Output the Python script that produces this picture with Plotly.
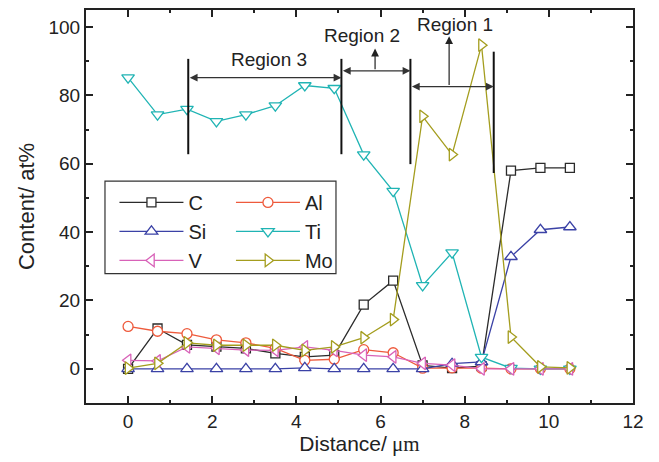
import plotly.graph_objects as go

distance = [0, 0.7, 1.4, 2.1, 2.8, 3.5, 4.2, 4.9, 5.6, 6.3, 7.0, 7.7, 8.4, 9.1, 9.8, 10.5]
C  = [0, 11.8, 7.0, 6.5, 6.0, 4.5, 3.5, 4.0, 18.8, 25.8, 1.0, 0.2, 0.8, 58.0, 58.8, 58.8]
Al = [12.4, 11.0, 10.3, 8.5, 7.6, 6.0, 2.5, 2.8, 5.6, 4.7, 0.2, 0.3, 0.2, 0, 0, 0]
Si = [0, 0, 0, 0, 0, 0, 0.3, 0, 0, 0, 0, 1.5, 2.0, 32.8, 40.7, 41.5]
Ti = [85.2, 74.4, 76.0, 72.4, 74.4, 77.0, 82.9, 82.1, 62.7, 52.0, 24.4, 34.0, 3.4, 0.2, 0, 0]
V  = [2.5, 2.3, 6.4, 6.0, 5.5, 5.4, 6.4, 5.4, 4.0, 3.5, 1.6, 1.1, 0, 0, 0, 0]
Mo = [0.2, 1.6, 7.6, 6.9, 6.9, 6.9, 5.4, 6.4, 9.1, 14.4, 73.9, 62.7, 94.7, 9.3, 0.6, 0.3]

x_ticks = [0, 2, 4, 6, 8, 10, 12]
y_ticks = [0, 20, 40, 60, 80, 100]

series = [
    ("C", C, "#2b2b2b", "square", 9, "legend"),
    ("Al", Al, "#EE5A3C", "circle", 10, "legend2"),
    ("Si", Si, "#3B42A6", "triangle-up", 11, "legend"),
    ("Ti", Ti, "#20B4B4", "triangle-down", 11, "legend2"),
    ("V", V, "#D862B8", "triangle-left", 11, "legend"),
    ("Mo", Mo, "#A49D1E", "triangle-right", 11, "legend2"),
]

FONT = "Liberation Sans, Arial, sans-serif"

fig = go.Figure()
for name, vals, col, sym, sz, lg in series:
    fig.add_trace(go.Scatter(
        x=distance, y=vals, name=name, mode="lines+markers",
        line=dict(color=col, width=1.3),
        marker=dict(symbol=sym, size=sz, color="white", line=dict(color=col, width=1.3)),
        legend=lg,
    ))

axis_common = dict(
    showline=True, linecolor="#222", linewidth=2, mirror="ticks",
    ticks="inside", ticklen=7, tickwidth=1.5, tickcolor="#222",
    showgrid=False, zeroline=False,
    tickfont=dict(family=FONT, size=19, color="#222"),
)

fig.update_xaxes(
    range=[-1, 12], tickvals=x_ticks,
    minor=dict(ticks="inside", ticklen=3, dtick=1, tick0=0, tickcolor="#222"),
    title=dict(text="Distance/<span style='font-family:Liberation Serif, Times New Roman, serif'> μm</span>",
               font=dict(family=FONT, size=21, color="#222"), standoff=5),
    **axis_common,
)
fig.update_yaxes(
    range=[-10, 105], tickvals=y_ticks,
    minor=dict(ticks="inside", ticklen=3, dtick=10, tick0=0, tickcolor="#222"),
    title=dict(text="Content/ at%", font=dict(family=FONT, size=22, color="#222"), standoff=8),
    **axis_common,
)

# region boundary lines
vlines = [(1.43, 62.8, 90.7), (5.07, 62.8, 90.7), (6.71, 59.9, 90.7), (8.69, 57.3, 92.8)]
for xv, y0, y1 in vlines:
    fig.add_shape(type="line", x0=xv, x1=xv, y0=y0, y1=y1, xref="x", yref="y",
                  line=dict(color="#111", width=2))

# double-headed arrows
harrows = [(1.43, 5.07, 85.2), (5.07, 6.71, 87.2), (6.71, 8.69, 82.6)]
for xa, xb, yv in harrows:
    fig.add_annotation(x=xb, y=yv, ax=xa, ay=yv, xref="x", yref="y", axref="x", ayref="y",
                       text="", showarrow=True, arrowhead=2, arrowside="end+start",
                       arrowsize=1.3, arrowwidth=1.2, arrowcolor="#333")
# upward arrows
uarrows = [(5.87, 87.2, 93.7), (7.63, 82.6, 97.3)]
for xv, y0, y1 in uarrows:
    fig.add_annotation(x=xv, y=y1, ax=xv, ay=y0, xref="x", yref="y", axref="x", ayref="y",
                       text="", showarrow=True, arrowhead=2, arrowsize=1.3, arrowwidth=1.2,
                       arrowcolor="#222")

labels = [("Region 3", 3.34, 90.5), ("Region 2", 5.56, 97.4), ("Region 1", 7.76, 100.8)]
for t, xv, yv in labels:
    fig.add_annotation(x=xv, y=yv, text=t, showarrow=False, xref="x", yref="y",
                       font=dict(family=FONT, size=19, color="#222"))

# legend frame
fig.add_shape(type="rect", xref="paper", yref="paper",
              x0=0.0347, x1=0.457, y0=0.329, y1=0.5646,
              line=dict(color="#333", width=1.2), fillcolor="rgba(0,0,0,0)")

legend_common = dict(
    bgcolor="rgba(0,0,0,0)", borderwidth=0, itemwidth=64,
    font=dict(family=FONT, size=20, color="#222"),
    yanchor="top", xanchor="left", tracegroupgap=0,
)
fig.update_layout(
    width=659, height=462,
    margin=dict(l=86, r=26, t=8, b=59),
    plot_bgcolor="white", paper_bgcolor="white",
    legend=dict(x=0.052, y=0.56, **legend_common),
    legend2=dict(x=0.265, y=0.56, **legend_common),
)

fig.write_html("out.html", config={"displayModeBar": False},
               post_script="document.body.style.margin='0';")
